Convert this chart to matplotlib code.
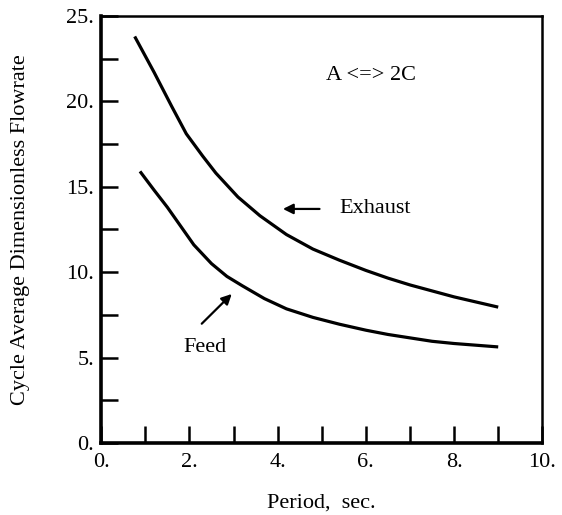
import matplotlib
matplotlib.use("Agg")
import matplotlib.pyplot as plt
from matplotlib.ticker import MultipleLocator, FuncFormatter

# values
exhaust_period = [0.76, 1.2, 1.6, 1.93, 2.3, 2.6, 3.1, 3.6, 4.2, 4.8, 5.4, 6.0, 6.5, 7.0, 7.5, 8.0, 8.5, 9.0]
exhaust_flow = [23.8, 21.7, 19.7, 18.1, 16.8, 15.8, 14.4, 13.3, 12.2, 11.35, 10.7, 10.1, 9.65, 9.25, 8.9, 8.55, 8.25, 7.95]

feed_period = [0.88, 1.2, 1.5, 1.8, 2.1, 2.5, 2.85, 3.2, 3.7, 4.2, 4.8, 5.4, 6.0, 6.5, 7.0, 7.5, 8.0, 8.5, 9.0]
feed_flow = [15.9, 14.8, 13.8, 12.7, 11.6, 10.5, 9.75, 9.2, 8.45, 7.85, 7.35, 6.95, 6.6, 6.35, 6.15, 5.95, 5.82, 5.72, 5.62]

x_major = [0, 2, 4, 6, 8, 10]
y_major = [0, 5, 10, 15, 20, 25]

plt.rcParams['font.family'] = ['Liberation Serif', 'DejaVu Serif']


def dot_label(v, pos):
    return f"{v:g}."


def main():
    fig = plt.figure(figsize=(5.62, 5.15), dpi=100)
    ax = fig.add_axes([0.18, 0.14, 0.785, 0.829])

    ax.plot(exhaust_period, exhaust_flow, color='black', lw=2.3, solid_capstyle='butt')
    ax.plot(feed_period, feed_flow, color='black', lw=2.3, solid_capstyle='butt')

    ax.set_xlim(0, 10)
    ax.set_ylim(0, 25)
    ax.set_xticks(x_major)
    ax.set_yticks(y_major)
    ax.xaxis.set_minor_locator(MultipleLocator(1))
    ax.yaxis.set_minor_locator(MultipleLocator(2.5))
    ax.xaxis.set_major_formatter(FuncFormatter(dot_label))
    ax.yaxis.set_major_formatter(FuncFormatter(dot_label))

    ax.tick_params(which='both', direction='in', length=12, width=1.8,
                   top=False, right=False, labelsize=16, color='black')
    ax.tick_params(axis='x', pad=7)
    ax.tick_params(axis='y', pad=5)

    ax.spines['left'].set_linewidth(2.6)
    ax.spines['bottom'].set_linewidth(2.6)
    ax.spines['top'].set_linewidth(1.8)
    ax.spines['right'].set_linewidth(1.8)

    ax.set_xlabel('Period,  sec.', fontsize=16, labelpad=16)
    ax.set_ylabel('Cycle Average Dimensionless Flowrate', fontsize=16, labelpad=26)

    ax.text(5.1, 21.5, 'A <=> 2C', fontsize=16, va='center', ha='left')

    ax.annotate('Exhaust', xy=(4.12, 13.7), xytext=(5.39, 13.7),
                fontsize=16, va='center', ha='left',
                arrowprops=dict(arrowstyle='-|>', color='black', lw=1.6,
                                mutation_scale=15, shrinkA=12, shrinkB=0))
    ax.text(1.87, 5.6, 'Feed', fontsize=16, va='center', ha='left')
    ax.annotate('', xy=(2.96, 8.72), xytext=(2.28, 6.98),
                arrowprops=dict(arrowstyle='-|>', color='black', lw=1.6,
                                mutation_scale=15, shrinkA=0, shrinkB=0))

    fig.savefig('out.png', dpi=100)


if __name__ == "__main__":
    main()
